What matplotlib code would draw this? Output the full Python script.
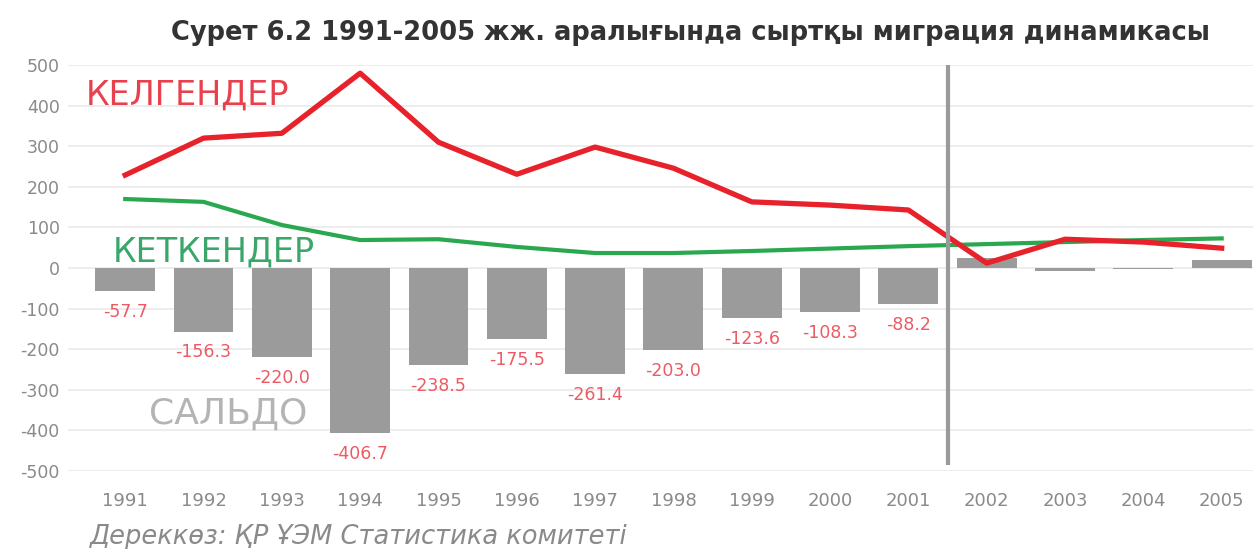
import matplotlib
matplotlib.use('Agg')
import matplotlib.pyplot as plt

years = list(range(1991, 2006))
arrived = [229, 320, 332, 480, 310, 231, 298, 246, 163, 155, 143, 12, 71, 64, 49]
departed = [170, 163, 106, 69, 71, 52, 37, 37, 42, 48, 54, 59, 64, 69, 73]
saldo = [-57.7, -156.3, -220.0, -406.7, -238.5, -175.5, -261.4, -203.0,
         -123.6, -108.3, -88.2, 25, -7, -2, 20]
saldo_labels = ['-57.7', '-156.3', '-220.0', '-406.7', '-238.5', '-175.5',
                '-261.4', '-203.0', '-123.6', '-108.3', '-88.2']
y_ticks = [500, 400, 300, 200, 100, 0, -100, -200, -300, -400, -500]

plt.rcParams['font.family'] = ['DejaVu Sans']
plt.rcParams['axes.unicode_minus'] = False

fig = plt.figure(figsize=(12.53, 5.49), dpi=100)
ax = fig.add_axes([0.0543, 0.142, 0.9457, 0.7395])

ax.bar(years, saldo, width=0.765, color='#9b9b9b', zorder=2)
ax.plot(years, departed, color='#2aa84f', lw=3, zorder=3)
ax.plot(years, arrived, color='#e8222b', lw=3.8, zorder=4)

# value labels under the negative bars
for yr, val, txt in zip(years, saldo, saldo_labels):
    ax.annotate(txt, (yr, val), xytext=(0, -15), textcoords='offset points',
                ha='center', va='center', fontsize=12.5, color='#ec5a64')

ax.vlines(2001.5, -485, 500, color='#9a9a9a', lw=3, zorder=5)

ax.text(1990.5, 425, 'КЕЛГЕНДЕР', color='#e8404c', fontsize=24, va='center', ha='left')
ax.text(1990.84, 40, 'КЕТКЕНДЕР', color='#3aa66a', fontsize=24, va='center', ha='left')
ax.text(1991.3, -360, 'САЛЬДО', color='#b4b4b4', fontsize=26, va='center', ha='left')

ax.set_xlim(1990.27, 2005.4)
ax.set_ylim(-500, 500)
ax.set_yticks(y_ticks)
ax.set_xticks(years)
ax.tick_params(length=0, colors='#8a8a8a', labelsize=12.5)
ax.tick_params(axis='x', labelsize=13, pad=15)
ax.tick_params(axis='y', pad=6)
ax.grid(axis='y', color='#ececec', lw=1.3, zorder=0)
ax.set_axisbelow(True)
for s in ax.spines.values():
    s.set_visible(False)

fig.text(0.551, 0.94, 'Сурет 6.2 1991-2005 жж. аралығында сыртқы миграция динамикасы',
         ha='center', va='center', fontsize=18.5, fontweight='bold', color='#333333')
fig.text(0.072, 0.022, 'Дереккөз: ҚР ҰЭМ Статистика комитеті',
         ha='left', va='center', fontsize=18.5, style='italic', color='#8a8a8a')

fig.savefig('out.png', dpi=100)
